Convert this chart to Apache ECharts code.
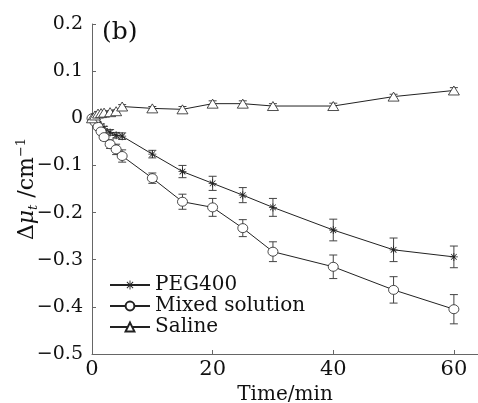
<!DOCTYPE html>
<html>
<head>
<meta charset="utf-8">
<script src="https://cdn.jsdelivr.net/npm/echarts@6/dist/echarts.min.js"></script>
<style>
  html, body { margin: 0; padding: 0; background: #fff; }
  #chart { width: 478px; height: 403px; }
</style>
</head>
<body>
<div id="chart"></div>
<script>
// time points (min)
var times = [0, 0.5, 1, 1.5, 2, 3, 4, 5, 10, 15, 20, 25, 30, 40, 50, 60];

var pegVals = [0, -0.006, -0.012, -0.017, -0.022, -0.03, -0.036, -0.038, -0.076, -0.113, -0.138, -0.163, -0.189, -0.237, -0.279, -0.294];
var pegErr = [0, 0.004, 0.004, 0.005, 0.005, 0.006, 0.006, 0.007, 0.008, 0.013, 0.015, 0.016, 0.019, 0.023, 0.025, 0.023];

var mixVals = [0, -0.008, -0.018, -0.028, -0.04, -0.055, -0.066, -0.08, -0.127, -0.177, -0.189, -0.233, -0.283, -0.315, -0.364, -0.405];
var mixErr = [0, 0.004, 0.005, 0.006, 0.007, 0.009, 0.011, 0.013, 0.011, 0.016, 0.019, 0.018, 0.021, 0.025, 0.028, 0.031];

var salVals = [0, 0.006, 0.01, 0.011, 0.012, 0.013, 0.015, 0.025, 0.021, 0.019, 0.031, 0.031, 0.026, 0.026, 0.046, 0.059];
var salErr = [0, 0.003, 0.003, 0.003, 0.003, 0.003, 0.003, 0.004, 0.004, 0.006, 0.006, 0.006, 0.005, 0.006, 0.005, 0.006];

var xTicks = [0, 20, 40, 60];

var serif = "DejaVu Serif";
var asterisk = "path://M4.5,0L5.5,0L5.5,10L4.5,10Z M0,4.5L10,4.5L10,5.5L0,5.5Z M1.1,1.8L1.8,1.1L8.9,8.2L8.2,8.9Z M8.2,1.1L8.9,1.8L1.8,8.9L1.1,8.2Z";

function pairs(vals) {
  return times.map(function (t, i) { return [t, vals[i]]; });
}
function bars(vals, errs) {
  return times.map(function (t, i) { return [t, vals[i] - errs[i], vals[i] + errs[i]]; });
}

function renderErr(params, api) {
  var x = api.value(0);
  var lo = api.coord([x, api.value(1)]);
  var hi = api.coord([x, api.value(2)]);
  var hw = 4;
  var st = { stroke: "#444", lineWidth: 1 };
  return {
    type: "group",
    children: [
      { type: "line", shape: { x1: lo[0], y1: lo[1], x2: hi[0], y2: hi[1] }, style: st },
      { type: "line", shape: { x1: lo[0] - hw, y1: lo[1], x2: lo[0] + hw, y2: lo[1] }, style: st },
      { type: "line", shape: { x1: hi[0] - hw, y1: hi[1], x2: hi[0] + hw, y2: hi[1] }, style: st }
    ]
  };
}

function errSeries(vals, errs) {
  return {
    type: "custom",
    renderItem: renderErr,
    data: bars(vals, errs),
    encode: { x: 0, y: [1, 2] },
    silent: true,
    z: 1
  };
}

var chart = echarts.init(document.getElementById("chart"));

var option = {
  animation: false,
  backgroundColor: "#fff",
  grid: { left: 92, right: 0, top: 24, bottom: 49, outerBoundsMode: "none" },
  legend: {
    orient: "vertical",
    left: 104,
    top: 270,
    itemGap: 1,
    itemWidth: 40,
    itemHeight: 11,
    data: ["PEG400", "Mixed solution", "Saline"],
    textStyle: { fontFamily: serif, fontSize: 20, color: "#111" }
  },
  xAxis: {
    type: "value",
    min: 0,
    max: 64,
    name: "Time/min",
    nameLocation: "middle",
    nameGap: 30,
    nameTextStyle: { fontFamily: serif, fontSize: 20, color: "#111" },
    splitLine: { show: false },
    axisLine: { onZero: false, lineStyle: { color: "#666" } },
    axisTick: { inside: true, length: 4, customValues: xTicks, lineStyle: { color: "#666" } },
    axisLabel: { customValues: xTicks, fontFamily: serif, fontSize: 21, color: "#111", margin: 5 }
  },
  yAxis: {
    type: "value",
    min: -0.5,
    max: 0.2,
    interval: 0.1,
    name: "{a|Δ}{m|μ}{s|t}{a| /cm}{p|−1}",
    nameLocation: "middle",
    nameGap: 52,
    nameMoveOverlap: false,
    nameTextStyle: {
      color: "#111",
      rich: {
        a: { fontFamily: serif, fontSize: 22 },
        m: { fontFamily: serif, fontSize: 22, fontStyle: "italic" },
        s: { fontFamily: serif, fontSize: 13, fontStyle: "italic", padding: [13, 0, 0, 0] },
        p: { fontFamily: serif, fontSize: 13, padding: [0, 0, 11, 0] }
      }
    },
    splitLine: { show: false },
    axisLine: { show: true, lineStyle: { color: "#666" } },
    axisTick: { inside: true, length: 4, lineStyle: { color: "#666" } },
    axisLabel: {
      fontFamily: serif,
      fontSize: 19,
      color: "#111",
      margin: 9,
      formatter: function (v) {
        var s = (Math.round(v * 10) / 10).toString();
        return s.replace("-", "−");
      }
    }
  },
  graphic: [
    { type: "text", left: 102, top: 20, style: { text: "(b)", font: "25px DejaVu Serif", fill: "#111" } }
  ],
  series: [
    errSeries(pegVals, pegErr),
    errSeries(mixVals, mixErr),
    errSeries(salVals, salErr),
    {
      name: "PEG400",
      type: "line",
      data: pairs(pegVals),
      symbol: asterisk,
      symbolSize: 8,
      showAllSymbol: true,
      lineStyle: { color: "#222", width: 1 },
      itemStyle: { color: "#222", borderWidth: 0 },
      z: 3
    },
    {
      name: "Mixed solution",
      type: "line",
      data: pairs(mixVals),
      symbol: "circle",
      symbolSize: [10, 9],
      showAllSymbol: true,
      lineStyle: { color: "#222", width: 1 },
      itemStyle: { color: "#fff", borderColor: "#222", borderWidth: 0.8 },
      z: 3
    },
    {
      name: "Saline",
      type: "line",
      data: pairs(salVals),
      symbol: "triangle",
      symbolSize: [11, 9],
      showAllSymbol: true,
      lineStyle: { color: "#222", width: 1 },
      itemStyle: { color: "#fff", borderColor: "#222", borderWidth: 0.8 },
      z: 3
    }
  ]
};

chart.setOption(option);
</script>
</body>
</html>
